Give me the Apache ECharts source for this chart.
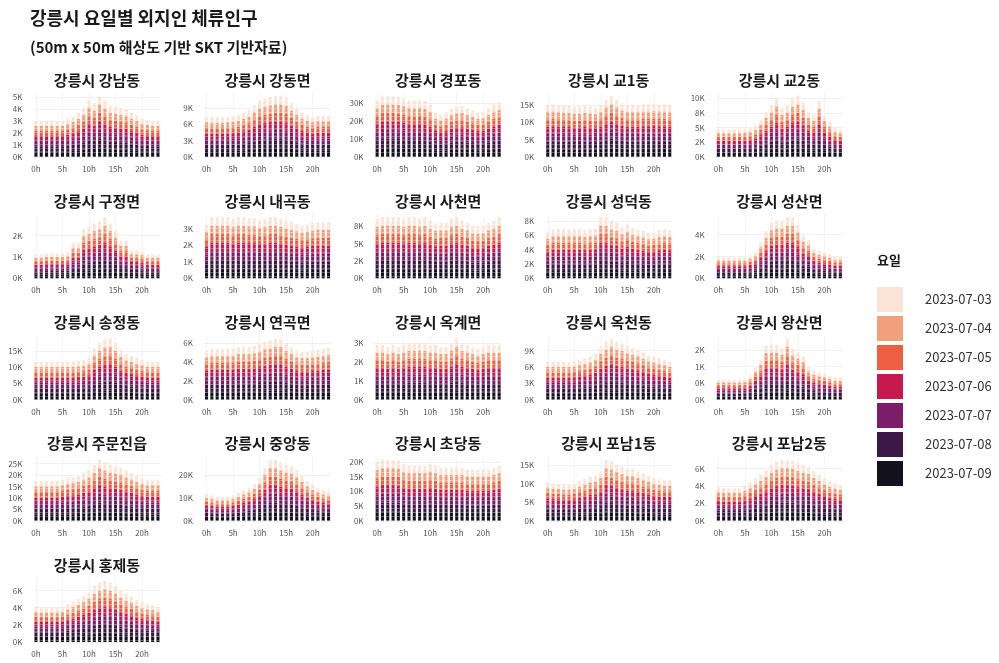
<!DOCTYPE html>
<html>
<head>
<meta charset="utf-8">
<script src="https://cdn.jsdelivr.net/npm/echarts@6/dist/echarts.min.js"></script>
<style>
  html, body { margin: 0; padding: 0; background: #fff; }
  #chart { width: 999px; height: 663px; }
</style>
</head>
<body>
<div id="chart"></div>
<script>
// Hourly stay population (persons) summed over the week, one array per district
const hours = [0,1,2,3,4,5,6,7,8,9,10,11,12,13,14,15,16,17,18,19,20,21,22,23];
const dates = ['2023-07-03','2023-07-04','2023-07-05','2023-07-06','2023-07-07','2023-07-08','2023-07-09'];
// share of each day within an hour's stacked total
const dayShare = [0.135, 0.14, 0.14, 0.14, 0.145, 0.15, 0.15];

const gangnamDong   = [3000,3000,3000,3000,3000,3000,3200,3400,3700,4100,4800,4500,5100,4700,4300,4200,4100,4000,3700,3500,3200,3100,3000,3000];
const gangdongMyeon = [7400,7300,7300,7300,7400,7500,7700,8100,8600,9500,10300,10700,11000,11200,11200,10900,9900,9000,8200,7700,7400,7600,7600,7600];
const gyeongpoDong  = [31500,33800,34000,33900,33600,32800,31600,31400,31600,31200,29000,24800,23600,24900,27000,28200,28400,27100,25900,24800,25000,27200,29300,30600];
const gyo1Dong      = [15000,15200,15000,14800,14800,14500,14500,14800,14600,14300,15000,16600,17600,16600,15500,15000,15000,15000,15200,15200,15300,15200,15200,15000];
const gyo2Dong      = [4700,4700,4700,4700,4700,4800,5000,5300,6400,7700,8800,10000,8300,8800,9900,10400,9300,7700,7200,9600,7100,6000,5000,4700];
const gujeongMyeon  = [1100,1100,1150,1150,1150,1150,1200,1650,1650,2300,2400,2550,2650,2850,2550,2200,1750,1750,1300,1300,1250,1100,1100,1100];
const naegokDong    = [3250,3700,3700,3700,3700,3600,3700,3700,3650,3650,3550,3600,3700,3700,3600,3500,3400,3300,3200,3250,3350,3400,3400,3400];
const sacheonMyeon  = [8600,8800,8800,8800,8800,8600,8800,8800,8600,8800,8300,7900,8000,8000,8600,8800,8300,8000,7500,7400,7500,8000,8300,8800];
const seongdeokDong = [6400,6800,6800,6800,6800,6800,6800,6700,6800,6900,8500,8500,7900,7700,7100,7500,7000,6800,6600,6300,6400,6700,6800,6700];
const seongsanMyeon = [1900,1900,1900,1900,1900,1900,2100,2350,3300,4300,5100,5300,5300,5600,5600,4900,3900,3500,2700,2500,2350,2200,2000,2000];
const songjeongDong = [11600,11600,11600,11600,11600,11600,11600,11600,11800,12100,12800,15700,17400,18600,18800,17400,15200,14000,13400,12800,12200,11700,11600,11600];
const yeongokMyeon  = [5200,5400,5400,5400,5400,5400,5600,5600,5600,5700,5900,6200,6300,6500,6500,6000,5600,5200,5100,5100,5200,5300,5400,5500];
const okgyeMyeon    = [2900,2900,2800,2900,2800,2900,3000,3000,3000,3000,2900,2900,2800,2800,3000,3250,3000,2900,2800,2700,2800,2900,2900,2900];
const okcheonDong   = [6900,6900,6900,6900,6900,7000,7300,7600,7900,8400,9700,10600,11200,10600,10300,9800,9500,9200,8700,8100,7900,7600,7300,6900];
const wangsanMyeon  = [600,600,600,600,600,620,720,970,1210,1630,1650,1650,1570,1850,1550,1440,1310,990,870,820,780,720,660,660];
const jumunjinEup   = [17400,17400,17400,17400,17400,18000,18600,19100,19700,20900,22000,24400,26700,25500,24400,23800,23200,22000,20900,19700,18600,18000,18000,18000];
const jungangDong   = [11700,11100,10500,10500,10500,11100,12300,13500,14600,16400,18700,23400,26900,26900,25700,24600,24000,22200,19900,17600,15800,14600,13500,12900];
const chodangDong   = [20000,20800,20800,20800,20600,19400,18800,18800,18800,18800,19400,18800,18100,18100,18100,18100,18100,17500,17500,17500,17500,17500,18100,18800];
const ponam1Dong    = [10400,10100,10000,9800,9800,10000,10700,11300,12000,12200,13400,16500,16100,15300,14600,14000,14000,13400,12800,12200,11600,11200,11000,11000];
const ponam2Dong    = [3850,3750,3750,3750,3750,4000,4400,4850,5300,5800,6400,6800,7000,7000,6900,6600,6400,6200,5700,5300,4850,4500,4300,4100];
const hongjeDong    = [4100,4000,4000,4000,4000,4100,4400,4700,5000,5400,5800,6500,6900,7100,6900,6500,6000,5600,5300,4900,4600,4400,4300,4100];

const districtNames = ['강릉시 강남동','강릉시 강동면','강릉시 경포동','강릉시 교1동','강릉시 교2동',
  '강릉시 구정면','강릉시 내곡동','강릉시 사천면','강릉시 성덕동','강릉시 성산면',
  '강릉시 송정동','강릉시 연곡면','강릉시 옥계면','강릉시 옥천동','강릉시 왕산면',
  '강릉시 주문진읍','강릉시 중앙동','강릉시 초당동','강릉시 포남1동','강릉시 포남2동',
  '강릉시 홍제동'];
const districtTotals = [gangnamDong, gangdongMyeon, gyeongpoDong, gyo1Dong, gyo2Dong,
  gujeongMyeon, naegokDong, sacheonMyeon, seongdeokDong, seongsanMyeon,
  songjeongDong, yeongokMyeon, okgyeMyeon, okcheonDong, wangsanMyeon,
  jumunjinEup, jungangDong, chodangDong, ponam1Dong, ponam2Dong, hongjeDong];
// y tick step of each panel
const yTickStep = [1000,3000,10000,5000,2500, 1000,1000,2500,2000,2000,
  5000,2000,1000,3000,500, 5000,10000,5000,5000,2000, 2000];

// fill colours, same order as dates
const dayColors = ['#FBE4D6','#F2A07C','#EC5F40','#C8194F','#7C1D6A','#3B1845','#13111E'];

const FONT = '"Noto Sans CJK KR", "Noto Sans", sans-serif';

// thousands label, ties rounded to even
function fmtK(v) {
  const x = v / 1000;
  const f = Math.floor(x);
  let r = Math.round(x);
  if (Math.abs(x - f - 0.5) < 1e-9) r = (f % 2 === 0) ? f : f + 1;
  return r + 'K';
}

const grids = [], xAxes = [], yAxes = [], series = [], graphics = [];
const colStep = 170.6, rowStep = 121.25;
const gridLeft0 = 33.3, gridW = 127.3, gridTop0 = 93, gridH = 64;

districtNames.forEach((name, p) => {
  const col = p % 5, row = Math.floor(p / 5);
  const left = gridLeft0 + colStep * col;
  const top = gridTop0 + rowStep * row;
  grids.push({ left: left, top: top, width: gridW, height: gridH, containLabel: false });
  xAxes.push({
    type: 'category', gridIndex: p, data: hours, boundaryGap: true,
    axisLine: { show: false }, axisTick: { show: false, alignWithLabel: true, interval: i => i % 5 === 0 },
    axisLabel: { interval: i => i % 5 === 0, formatter: v => v + 'h', fontSize: 8, color: '#555',
      margin: 8, fontFamily: FONT },
    splitLine: { show: true, alignWithLabel: true, interval: i => i % 5 === 0,
      lineStyle: { color: '#ececec', width: 0.6 } }
  });
  yAxes.push({
    type: 'value', gridIndex: p, min: 0, max: v => v.max * 1.05, interval: yTickStep[p],
    axisLine: { show: false }, axisTick: { show: false },
    axisLabel: { formatter: fmtK, fontSize: 8, color: '#555', margin: 11, fontFamily: FONT,
      showMaxLabel: false },
    splitLine: { show: true, showMaxLine: false, lineStyle: { color: '#e6e6e6', width: 0.6 } }
  });
  const totals = districtTotals[p];
  // bottom of the stack is the last date
  for (let d = dates.length - 1; d >= 0; d--) {
    series.push({
      type: 'bar', name: dates[d], xAxisIndex: p, yAxisIndex: p, stack: 'p' + p,
      data: totals.map(v => v * dayShare[d]),
      barCategoryGap: '42%',
      itemStyle: {
        color: dayColors[d],
        decal: { symbol: 'rect', symbolSize: 1, color: 'rgba(255,255,255,0.3)',
          dashArrayX: [1, 0], dashArrayY: [1, 3], rotation: 0 }
      },
      emphasis: { disabled: true }
    });
  }
  graphics.push({
    type: 'text', x: left + gridW / 2, y: 80 + rowStep * row,
    style: { text: name, font: 'bold 15px ' + FONT, fill: '#1a1a1a',
      align: 'center', verticalAlign: 'middle' }
  });
});

graphics.push({ type: 'text', x: 30, y: 18,
  style: { text: '강릉시 요일별 외지인 체류인구', font: 'bold 18px ' + FONT, fill: '#1a1a1a', verticalAlign: 'middle' } });
graphics.push({ type: 'text', x: 30, y: 47,
  style: { text: '(50m x 50m 해상도 기반 SKT 기반자료)', font: 'bold 15px ' + FONT, fill: '#1a1a1a', verticalAlign: 'middle' } });
graphics.push({ type: 'text', x: 877, y: 260,
  style: { text: '요일', font: 'bold 13px ' + FONT, fill: '#1a1a1a', verticalAlign: 'middle' } });

const chart = echarts.init(document.getElementById('chart'), null, { renderer: 'canvas' });
chart.setOption({
  animation: false,
  backgroundColor: '#ffffff',
  grid: grids,
  xAxis: xAxes,
  yAxis: yAxes,
  series: series,
  legend: {
    data: dates.map(d => ({ name: d, icon: 'rect' })),
    orient: 'vertical', left: 877, top: 287,
    itemWidth: 26, itemHeight: 25, itemGap: 4, padding: 0,
    selectedMode: false,
    itemStyle: { decal: 'none' },
    textStyle: { fontSize: 13, color: '#333', fontFamily: FONT, padding: [0, 0, 0, 17] }
  },
  graphic: graphics
});
</script>
</body>
</html>
